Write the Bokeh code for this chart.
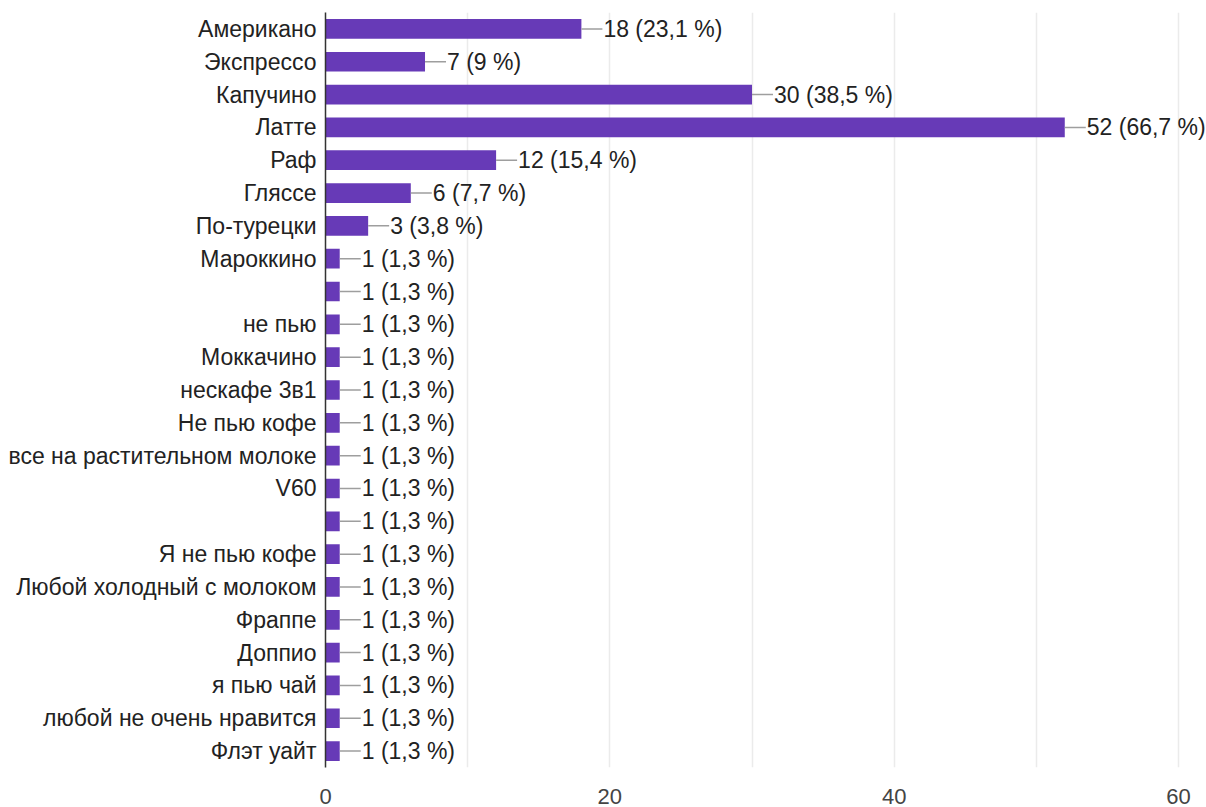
from bokeh.plotting import figure
from bokeh.models import ColumnDataSource, FixedTicker, Range1d
from bokeh.embed import file_html
from bokeh.resources import INLINE
from bokeh.core.properties import value

categories = ["Американо", "Экспрессо", "Капучино", "Латте", "Раф", "Гляссе",
              "По-турецки", "Мароккино", "", "не пью", "Моккачино", "нескафе 3в1",
              "Не пью кофе", "все на растительном молоке", "V60", "", "Я не пью кофе",
              "Любой холодный с молоком", "Фраппе", "Доппио", "я пью чай",
              "любой не очень нравится", "Флэт уайт"]
counts = [18, 7, 30, 52, 12, 6, 3, 1, 1, 1, 1, 1, 1, 1, 1, 1, 1, 1, 1, 1, 1, 1, 1]
percents = ["23,1 %", "9 %", "38,5 %", "66,7 %", "15,4 %", "7,7 %", "3,8 %",
            "1,3 %", "1,3 %", "1,3 %", "1,3 %", "1,3 %", "1,3 %", "1,3 %", "1,3 %",
            "1,3 %", "1,3 %", "1,3 %", "1,3 %", "1,3 %", "1,3 %", "1,3 %", "1,3 %"]
x_ticks = [0, 20, 40, 60]
grid_ticks = [0, 10, 20, 30, 40, 50, 60]
x_max = 60

FONT = "Liberation Sans"
FS = "23px"
W, H = 1206, 807
LEFT, TOP, BOTTOM = 325, 12, 40
AXIS_PX = 853          # pixel length of the 0..60 axis
frame_w = W - LEFT
px_per_unit = AXIS_PX / x_max
x_end = frame_w / px_per_unit
dash_units = 21 / px_per_unit

n = len(categories)
idx = list(range(n))
src = ColumnDataSource(dict(
    y=idx,
    v=counts,
    v_end=[c + dash_units for c in counts],
    lab=[f"{c} ({p})" for c, p in zip(counts, percents)],
))

p = figure(width=W, height=H, output_backend="svg", toolbar_location=None,
           x_range=Range1d(0, x_end), y_range=Range1d(n - 0.5, -0.5),
           min_border_left=LEFT, min_border_right=0,
           min_border_top=TOP, min_border_bottom=BOTTOM)
p.outline_line_color = None
p.background_fill_color = "white"

p.hbar(y="y", left=0, right="v", height=0.6, source=src,
       fill_color="#673ab7", line_color=None)
p.segment(x0="v", y0="y", x1="v_end", y1="y", source=src,
          line_color="#9e9e9e", line_width=1.5)
p.text(x="v_end", y="y", text="lab", source=src, x_offset=1,
       text_font=value(FONT), text_font_size=FS, text_color="#222222",
       text_baseline="middle", text_align="left")

# axes
yax = p.yaxis[0]
yax.ticker = FixedTicker(ticks=idx)
yax.major_label_overrides = {i: (c if c else " ") for i, c in zip(idx, categories)}
yax.major_tick_line_color = None
yax.minor_tick_line_color = None
yax.axis_line_color = "#333333"
yax.axis_line_width = 1.5
yax.major_label_text_font = FONT
yax.major_label_text_font_size = FS
yax.major_label_text_color = "#222222"
yax.major_label_standoff = 3

xax = p.xaxis[0]
xax.ticker = FixedTicker(ticks=x_ticks)
xax.axis_line_color = None
xax.major_tick_line_color = None
xax.minor_tick_line_color = None
xax.major_label_text_font = FONT
xax.major_label_text_font_size = "22px"
xax.major_label_text_color = "#444444"
xax.major_label_standoff = 15

p.ygrid.grid_line_color = None
p.xgrid.ticker = FixedTicker(ticks=grid_ticks)
p.xgrid.grid_line_color = "#ebebeb"
p.xgrid.grid_line_width = 1.5

open("out.html", "w").write(file_html(p, INLINE))
